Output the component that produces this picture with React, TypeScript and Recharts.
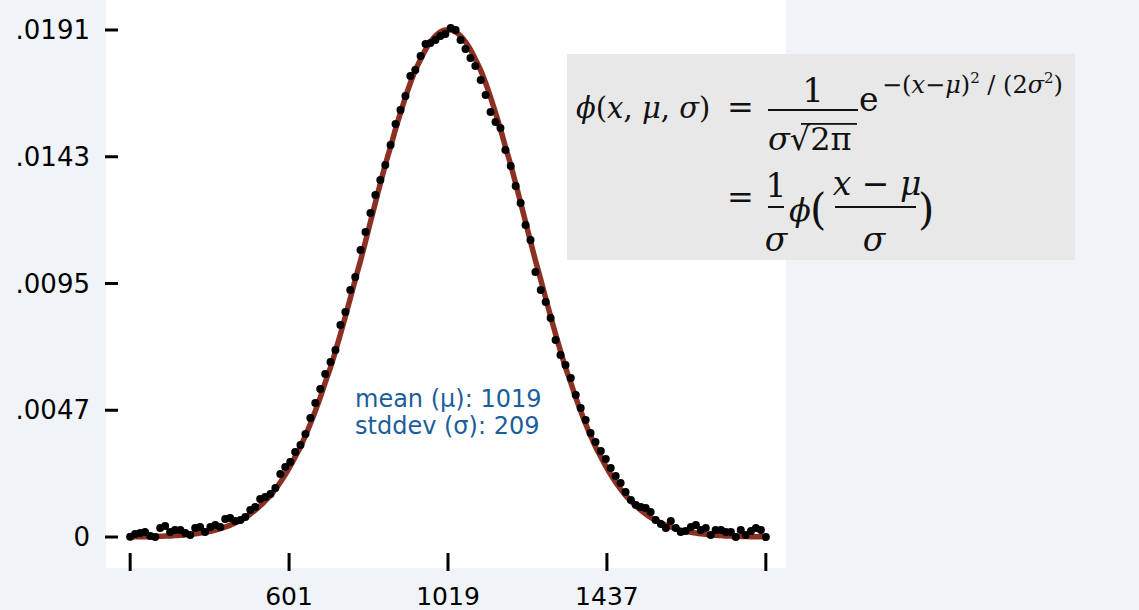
import React from 'react';
import { ComposedChart, Scatter, Line, XAxis, YAxis } from 'recharts';

// bin centres (x) shared by the samples and the fitted curve
const binX = [
  183, 196, 209, 222, 236, 249, 262, 275, 288, 301, 315, 328, 341, 354, 367, 380,
  394, 407, 420, 433, 446, 459, 473, 486, 499, 512, 525, 538, 552, 565, 578, 591,
  604, 617, 631, 644, 657, 670, 683, 696, 710, 723, 736, 749, 762, 775, 789, 802,
  815, 828, 841, 854, 868, 881, 894, 907, 920, 933, 947, 960, 973, 986, 999, 1012,
  1026, 1039, 1052, 1065, 1078, 1091, 1105, 1118, 1131, 1144, 1157, 1170, 1184, 1197, 1210, 1223,
  1236, 1249, 1263, 1276, 1289, 1302, 1315, 1328, 1342, 1355, 1368, 1381, 1394, 1407, 1421, 1434,
  1447, 1460, 1473, 1486, 1500, 1513, 1526, 1539, 1552, 1565, 1579, 1592, 1605, 1618, 1631, 1644,
  1658, 1671, 1684, 1697, 1710, 1723, 1737, 1750, 1763, 1776, 1789, 1802, 1816, 1829, 1842, 1855,
];

// observed frequencies (black dots)
const sampleY = [
  0.00001, 0.000113, 0.000151, 0.000188, 0.000038, 0.0, 0.000339, 0.000414, 0.000188, 0.000264,
  0.000264, 0.000151, 0.000075, 0.000339, 0.000377, 0.000188, 0.000377, 0.000452, 0.000377, 0.000678,
  0.000715, 0.000602, 0.00064, 0.000753, 0.001017, 0.00113, 0.001431, 0.001506, 0.001619, 0.001845,
  0.002372, 0.002636, 0.002824, 0.003201, 0.003464, 0.003878, 0.004481, 0.005046, 0.005573, 0.006138,
  0.006589, 0.007041, 0.007983, 0.008472, 0.009301, 0.00979, 0.010807, 0.011484, 0.0122, 0.012878,
  0.013442, 0.014007, 0.01476, 0.015551, 0.016078, 0.016605, 0.017359, 0.017584, 0.018112, 0.018563,
  0.018601, 0.018714, 0.018865, 0.01894, 0.019166, 0.019091, 0.018714, 0.018375, 0.018036, 0.017735,
  0.017208, 0.016643, 0.016003, 0.015626, 0.0154, 0.014572, 0.01397, 0.013217, 0.012576, 0.011748,
  0.011183, 0.009978, 0.009301, 0.008849, 0.008246, 0.007418, 0.006853, 0.006476, 0.005987, 0.005347,
  0.004857, 0.004406, 0.003916, 0.003577, 0.003238, 0.002937, 0.002598, 0.002297, 0.002033, 0.001694,
  0.001393, 0.001205, 0.00113, 0.001092, 0.000941, 0.00064, 0.00049, 0.000339, 0.000602, 0.000339,
  0.000188, 0.000226, 0.000377, 0.000452, 0.000264, 0.000339, 0.000075, 0.000264, 0.000264, 0.000188,
  0.000188, 0.0, 0.000264, 0.000075, 0.000226, 0.000339, 0.000264, 0.0,
];

// fitted normal curve (red line)
const fitY = [
  0.000006, 0.000008, 0.000011, 0.000013, 0.000017, 0.000022, 0.000027, 0.000034, 0.000042, 0.000053,
  0.000065, 0.000081, 0.000099, 0.000121, 0.000148, 0.00018, 0.000217, 0.000262, 0.000314, 0.000376,
  0.000448, 0.000531, 0.000627, 0.000736, 0.000865, 0.00101, 0.001173, 0.001359, 0.001568, 0.001802,
  0.002062, 0.002351, 0.002669, 0.003018, 0.0034, 0.003815, 0.004262, 0.004745, 0.005259, 0.00581,
  0.006389, 0.006999, 0.007636, 0.008303, 0.008987, 0.009688, 0.01041, 0.011129, 0.011865, 0.012587,
  0.013312, 0.014008, 0.014698, 0.015358, 0.01597, 0.016556, 0.017093, 0.017568, 0.01799, 0.018351,
  0.018644, 0.018867, 0.019016, 0.01909,
  0.01909, 0.019016, 0.018867, 0.018644, 0.018351, 0.01799, 0.017568, 0.017093, 0.016556, 0.01597,
  0.015358, 0.014698, 0.014008, 0.013312, 0.012587, 0.011865, 0.011129, 0.01041, 0.009688, 0.008987,
  0.008303, 0.007636, 0.006999, 0.006389, 0.00581, 0.005259, 0.004745, 0.004262, 0.003815, 0.0034,
  0.003018, 0.002669, 0.002351, 0.002062, 0.001802, 0.001568, 0.001359, 0.001173, 0.00101, 0.000865,
  0.000736, 0.000627, 0.000531, 0.000448, 0.000376, 0.000314, 0.000262, 0.000217, 0.00018, 0.000148,
  0.000121, 0.000099, 0.000081, 0.000065, 0.000053, 0.000042, 0.000034, 0.000027, 0.000022, 0.000017,
  0.000013, 0.000011, 0.000008, 0.000006,
];

const xTicks = [183, 601, 1019, 1437, 1855];
const xTickLabels = ['', '601', '1019', '1437', ''];
const yTicks = [0, 0.004773, 0.009546, 0.014318, 0.019091];
const yTickLabels = ['0', '.0047', '.0095', '.0143', '.0191'];

const MEAN = 1019;
const STDDEV = 209;

const samples = binX.map((x, i) => ({ x, y: sampleY[i] }));
const curve = binX.map((x, i) => ({ x, y: fitY[i] }));

const SANS = '"DejaVu Sans", sans-serif';
const MATH = '"DejaVu Serif", serif';
const INK = '#111';

const Dot = (props: any) => <circle cx={props.cx} cy={props.cy} r={4} fill="#000" />;

const Formula = () => (
  <svg width={1139} height={610} style={{ position: 'absolute', left: 0, top: 0, pointerEvents: 'none' }}>
    <rect x={567} y={54} width={508} height={206} fill="#e8e8e8" />
    <g fontFamily={MATH} fill={INK}>
      {/* line 1 */}
      <text x={576} y={118} fontSize={29}>
        <tspan fontStyle="italic">ϕ</tspan>(<tspan fontStyle="italic">x</tspan>, <tspan fontStyle="italic">μ</tspan>, <tspan fontStyle="italic">σ</tspan>)
      </text>
      <text x={740.5} y={118} fontSize={32} textAnchor="middle">=</text>
      <text x={813} y={102} fontSize={34} textAnchor="middle">1</text>
      <rect x={768} y={109} width={90} height={2} />
      <text x={768} y={150} fontSize={32}>
        <tspan fontStyle="italic">σ</tspan>√2π
      </text>
      <rect x={801} y={123} width={56} height={1.8} />
      <text x={859} y={111} fontSize={33}>e</text>
      <text x={882} y={93} fontSize={24}>
        −(<tspan fontStyle="italic">x</tspan>−<tspan fontStyle="italic">μ</tspan>)<tspan fontSize={15} dy={-10}>2</tspan><tspan dy={10}> / (2</tspan><tspan fontStyle="italic">σ</tspan><tspan fontSize={15} dy={-10}>2</tspan><tspan dy={10}>)</tspan>
      </text>
      {/* line 2 */}
      <text x={740.5} y={208} fontSize={32} textAnchor="middle">=</text>
      <text x={776} y={197} fontSize={33} textAnchor="middle">1</text>
      <rect x={768} y={206} width={16} height={2} />
      <text x={776} y={251} fontSize={33} textAnchor="middle" fontStyle="italic">σ</text>
      <text x={789} y={221} fontSize={32} fontStyle="italic">ϕ</text>
      <text x={810} y={224} fontSize={42}>(</text>
      <text x={877} y={195} fontSize={33} textAnchor="middle">
        <tspan fontStyle="italic">x</tspan> − <tspan fontStyle="italic">μ</tspan>
      </text>
      <rect x={835} y={206} width={81} height={2} />
      <text x={874} y={251} fontSize={33} textAnchor="middle" fontStyle="italic">σ</text>
      <text x={918} y={224} fontSize={42}>)</text>
    </g>
    <g fontFamily={SANS} fontSize={24} fill="#1b5e9b">
      <text x={355} y={407}>mean (μ): {MEAN}</text>
      <text x={355} y={434}>stddev (σ): {STDDEV}</text>
    </g>
  </svg>
);

export default function App() {
  return (
    <div style={{ position: 'absolute', left: 0, top: 0, width: 1139, height: 610, background: '#f0f3f7', overflow: 'hidden' }}>
      <div style={{ position: 'absolute', left: 106, top: 0, width: 680, height: 568, background: '#fff' }} />
      <div style={{ position: 'absolute', left: 0, top: 0 }}>
        <ComposedChart width={1139} height={610} margin={{ top: 14, right: 361, bottom: 0, left: 0 }}>
          <XAxis
            type="number"
            dataKey="x"
            domain={[151, 1887]}
            ticks={xTicks}
            interval={0}
            tickFormatter={(v: number) => xTickLabels[xTicks.indexOf(v)] ?? ''}
            axisLine={false}
            tickLine={{ stroke: '#000', strokeWidth: 3 }}
            tickSize={18}
            tickMargin={16}
            height={57}
            tick={{ fill: '#000', fontSize: 25, fontFamily: SANS }}
            allowDataOverflow
          />
          <YAxis
            type="number"
            dataKey="y"
            domain={[-0.000602, 0.019693]}
            ticks={yTicks}
            interval={0}
            tickFormatter={(v: number) => yTickLabels[yTicks.indexOf(v)] ?? ''}
            axisLine={false}
            tickLine={{ stroke: '#000', strokeWidth: 3 }}
            tickSize={13}
            tickMargin={15}
            width={118}
            tick={{ fill: '#000', fontSize: 26, fontFamily: SANS }}
            allowDataOverflow
          />
          <Scatter data={samples} dataKey="y" shape={Dot} isAnimationActive={false} />
          <Line
            data={curve}
            dataKey="y"
            type="monotone"
            stroke="#8c3024"
            strokeWidth={5.5}
            dot={false}
            activeDot={false}
            isAnimationActive={false}
          />
        </ComposedChart>
      </div>
      <Formula />
    </div>
  );
}
